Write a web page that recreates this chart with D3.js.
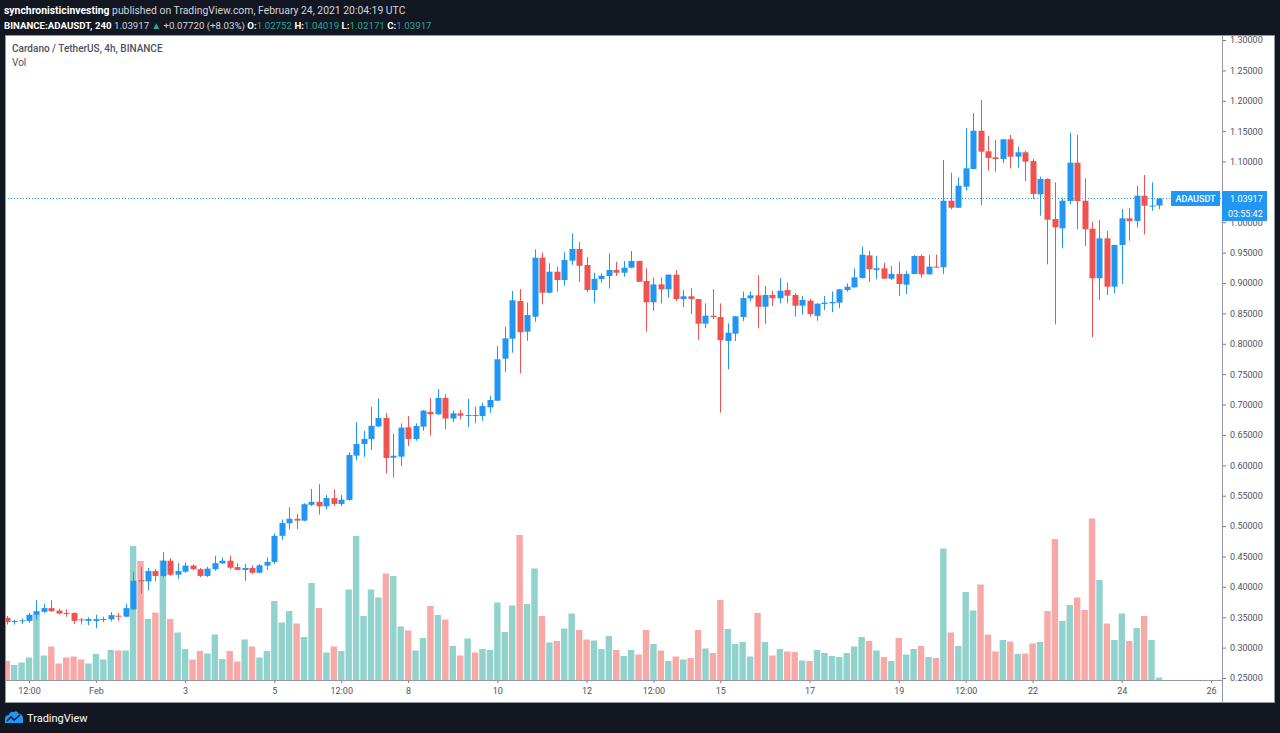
<!DOCTYPE html>
<html><head><meta charset="utf-8">
<script src="https://cdn.jsdelivr.net/npm/d3@7"></script>
<style>
html,body{margin:0;padding:0;background:#131722;}
svg{display:block;}
</style></head><body>
<svg id="c" width="1280" height="733"></svg>
<script>
// ---- DATA (4h candles, ADA/USDT, from 2021-01-30 00:00 UTC) ----
const opens = [0.349,0.342,0.344,0.344,0.354,0.359,0.365,0.361,0.357,0.357,0.3465,0.344,0.344,0.346,0.3465,0.3525,0.351,0.363,0.411,0.409,0.426,0.418,0.443,0.420,0.425,0.435,0.429,0.418,0.429,0.4387,0.443,0.4325,0.4277,0.431,0.4232,0.435,0.441,0.484,0.5046,0.512,0.509,0.535,0.540,0.5325,0.546,0.5365,0.543,0.616,0.635,0.643,0.664,0.678,0.6125,0.6143,0.6626,0.6433,0.6636,0.688,0.684,0.711,0.677,0.6856,0.6812,0.6828,0.6812,0.6955,0.7064,0.7755,0.8084,0.8704,0.820,0.8446,0.9417,0.884,0.9187,0.905,0.9368,0.956,0.9297,0.8886,0.9067,0.9116,0.9215,0.917,0.9253,0.9363,0.9033,0.8683,0.8978,0.8897,0.9138,0.8737,0.8782,0.8737,0.8331,0.8463,0.8441,0.8046,0.8167,0.8441,0.8749,0.8798,0.861,0.8803,0.875,0.8885,0.8803,0.8627,0.871,0.846,0.8655,0.8666,0.8677,0.8885,0.8929,0.9083,0.9456,0.9215,0.9242,0.9072,0.915,0.8973,0.915,0.9445,0.9143,0.927,0.926,1.0355,1.024,1.0586,1.0877,1.1507,1.1168,1.1069,1.1041,1.1366,1.108,1.1152,1.1008,1.046,1.0712,1.0054,0.990,1.035,1.0981,1.0355,0.9894,0.9078,0.9736,0.894,0.9626,1.0065,1.002,1.0437,1.0270,1.02752];
const highs = [0.352,0.346,0.348,0.357,0.378,0.372,0.378,0.364,0.363,0.358,0.349,0.350,0.354,0.351,0.3585,0.357,0.372,0.425,0.433,0.431,0.429,0.457,0.447,0.439,0.440,0.437,0.431,0.433,0.451,0.4486,0.451,0.439,0.4376,0.4354,0.4376,0.4486,0.488,0.511,0.531,0.520,0.5375,0.561,0.569,0.551,0.5606,0.551,0.6214,0.671,0.657,0.6965,0.7096,0.686,0.652,0.669,0.681,0.669,0.691,0.711,0.7256,0.717,0.690,0.691,0.7096,0.6965,0.703,0.714,0.7964,0.828,0.887,0.890,0.868,0.9555,0.950,0.9325,0.927,0.9506,0.9818,0.9675,0.943,0.917,0.916,0.949,0.935,0.936,0.9527,0.9365,0.924,0.909,0.909,0.914,0.9215,0.8885,0.8913,0.874,0.8666,0.890,0.8666,0.8337,0.8455,0.886,0.886,0.913,0.895,0.8874,0.908,0.9006,0.883,0.879,0.874,0.867,0.8787,0.886,0.890,0.8995,0.924,0.960,0.953,0.9445,0.9335,0.928,0.935,0.920,0.946,0.9467,0.946,0.947,1.1025,1.0816,1.074,1.1547,1.180,1.2012,1.142,1.1354,1.137,1.1436,1.1244,1.1173,1.104,1.075,1.0724,1.0658,1.0395,1.1474,1.1436,1.0724,1.001,1.0037,0.9856,0.963,1.0218,1.023,1.0602,1.0778,1.0658,1.04019];
const lows = [0.338,0.338,0.339,0.341,0.346,0.357,0.359,0.355,0.351,0.339,0.338,0.337,0.332,0.342,0.3433,0.344,0.350,0.362,0.389,0.394,0.409,0.416,0.418,0.413,0.423,0.427,0.416,0.416,0.4265,0.4376,0.429,0.427,0.4101,0.421,0.4222,0.428,0.4376,0.477,0.4947,0.495,0.508,0.533,0.519,0.528,0.533,0.533,0.5418,0.608,0.614,0.6254,0.663,0.587,0.580,0.599,0.632,0.6405,0.657,0.649,0.683,0.660,0.671,0.6757,0.6626,0.6692,0.6735,0.6866,0.706,0.754,0.7854,0.7515,0.805,0.8364,0.865,0.883,0.886,0.8956,0.930,0.902,0.885,0.8666,0.9005,0.891,0.9116,0.9105,0.9242,0.9017,0.820,0.8545,0.8666,0.876,0.8704,0.860,0.849,0.807,0.8255,0.8408,0.6866,0.758,0.8046,0.8375,0.8704,0.8255,0.833,0.862,0.8666,0.8666,0.8446,0.848,0.845,0.838,0.8556,0.852,0.8584,0.8858,0.8925,0.907,0.902,0.906,0.907,0.905,0.8787,0.882,0.9145,0.9094,0.914,0.9255,0.915,1.0214,1.0235,1.052,1.0875,1.0284,1.085,1.0832,1.097,1.0888,1.0898,1.068,1.038,1.0108,0.9308,0.832,0.957,1.0296,0.9885,0.961,0.8107,0.872,0.8803,0.883,0.8984,0.9697,0.9917,0.980,1.019,1.02171];
const closes = [0.342,0.344,0.345,0.354,0.360,0.365,0.360,0.356,0.356,0.344,0.3455,0.347,0.347,0.347,0.3535,0.351,0.365,0.410,0.409,0.426,0.418,0.443,0.420,0.426,0.435,0.429,0.418,0.430,0.439,0.443,0.4315,0.428,0.431,0.4232,0.4354,0.441,0.484,0.505,0.512,0.509,0.536,0.5397,0.5325,0.5462,0.5365,0.5435,0.617,0.635,0.6435,0.665,0.678,0.612,0.6158,0.662,0.6433,0.6647,0.690,0.684,0.711,0.677,0.6856,0.6817,0.6828,0.6812,0.6976,0.7075,0.7745,0.809,0.8716,0.819,0.8474,0.9417,0.884,0.9187,0.905,0.938,0.956,0.9285,0.8886,0.907,0.912,0.9215,0.917,0.9253,0.9363,0.902,0.8683,0.8978,0.8897,0.9138,0.8737,0.8782,0.8737,0.833,0.8463,0.8441,0.8058,0.8183,0.8453,0.8753,0.8798,0.861,0.8803,0.875,0.8874,0.8792,0.8627,0.8721,0.849,0.866,0.8677,0.8688,0.8897,0.894,0.9094,0.9467,0.9226,0.9242,0.9072,0.915,0.8984,0.915,0.9445,0.9143,0.927,0.926,1.0355,1.024,1.0602,1.0888,1.1507,1.1162,1.1058,1.1041,1.1366,1.108,1.1152,1.0997,1.0465,1.0712,1.0042,0.9917,1.0355,1.0981,1.035,0.9885,0.9078,0.9736,0.894,0.9626,1.0065,1.002,1.0437,1.0273,1.02752,1.03917];
const volumes = [38,30,35,45,131,49,67,33,45,47,41,33,52,41,60,59,59,268,238,122,135,239,122,95,62,41,58,53,91,42,58,37,81,67,45,58,158,115,138,113,86,194,144,55,67,58,181,288,128,181,165,213,208,107,99,59,84,148,130,121,68,49,83,55,62,60,155,96,149,290,152,223,128,75,78,103,133,100,81,79,62,88,60,48,60,51,100,72,59,38,47,41,44,100,63,54,160,102,72,76,47,134,76,49,62,57,56,39,38,60,54,48,46,54,67,86,78,59,46,38,84,51,62,68,46,44,263,95,68,176,139,191,91,57,80,77,52,53,73,76,138,282,118,150,165,140,323,200,113,80,133,78,104,128,80,5];
const priceTicks = [0.25,0.30,0.35,0.40,0.45,0.50,0.55,0.60,0.65,0.70,0.75,0.80,0.85,0.90,0.95,1.00,1.05,1.10,1.15,1.20,1.25,1.30];
const timeTickLabels = ["12:00","Feb","3","5","12:00","8","10","12","12:00","15","17","19","12:00","22","24","26"];
const timeTickDates = ["2021-01-30T12:00Z","2021-02-01T00:00Z","2021-02-03T00:00Z","2021-02-05T00:00Z","2021-02-06T12:00Z","2021-02-08T00:00Z","2021-02-10T00:00Z","2021-02-12T00:00Z","2021-02-13T12:00Z","2021-02-15T00:00Z","2021-02-17T00:00Z","2021-02-19T00:00Z","2021-02-20T12:00Z","2021-02-22T00:00Z","2021-02-24T00:00Z","2021-02-26T00:00Z"];
const startTime = Date.UTC(2021,0,30,0,0);
const barMs = 4*3600*1000;

// ---- LAYOUT ----
const W = 1280, Hh = 733;
const panel = {x0:5, y0:35, x1:1275, y1:703};
const plot = {x0:5, y0:35, x1:1222, y1:680};
const UP = "#2196f3", DOWN = "#ef5350";
const VUP = "rgba(38,166,154,0.5)", VDOWN = "rgba(239,83,80,0.5)";
const font = "Roboto, 'Open Sans', sans-serif";

const svg = d3.select("#c");
svg.append("rect").attr("width",W).attr("height",Hh).attr("fill","#131722");
svg.append("rect").attr("x",panel.x0).attr("y",panel.y0).attr("width",panel.x1-panel.x0).attr("height",panel.y1-panel.y0).attr("fill","#ffffff");

const data = opens.map((o,i)=>({t:new Date(startTime+i*barMs),o,h:highs[i],l:lows[i],c:closes[i],v:volumes[i]}));

const x = d3.scaleUtc().domain([new Date("2021-01-30T00:00Z"), new Date("2021-02-26T00:00Z")]).range([6.7, 1211]);
const y = d3.scaleLinear().domain([0.25,1.30]).range([678,40]);
const yv = d3.scaleLinear().domain([0,330]).range([680,515]);

svg.append("clipPath").attr("id","clip").append("rect")
  .attr("x",plot.x0).attr("y",plot.y0).attr("width",plot.x1-plot.x0).attr("height",plot.y1-plot.y0);
const g = svg.append("g").attr("clip-path","url(#clip)");

// volume
g.append("g").selectAll("rect").data(data).join("rect")
  .attr("x",d=>x(d.t)-3.2).attr("width",6.4)
  .attr("y",d=>yv(d.v)).attr("height",d=>yv(0)-yv(d.v))
  .attr("fill",d=>d.c>=d.o?VUP:VDOWN);

// last price line
const last = data[data.length-1];
g.append("line").attr("x1",plot.x0).attr("x2",plot.x1).attr("y1",Math.round(y(last.c))+0.5).attr("y2",Math.round(y(last.c))+0.5)
  .attr("stroke",UP).attr("stroke-width",1).attr("stroke-dasharray","1,2");

// candles
const cg = g.append("g");
cg.selectAll("line").data(data).join("line")
  .attr("x1",d=>Math.round(x(d.t))+0.5).attr("x2",d=>Math.round(x(d.t))+0.5)
  .attr("y1",d=>y(d.h)).attr("y2",d=>y(d.l))
  .attr("stroke",d=>d.c>=d.o?UP:DOWN).attr("stroke-width",1);
cg.selectAll("rect").data(data).join("rect")
  .attr("x",d=>Math.round(x(d.t))-2.5).attr("width",6)
  .attr("y",d=>y(Math.max(d.o,d.c)))
  .attr("height",d=>Math.max(1,Math.abs(y(d.o)-y(d.c))))
  .attr("fill",d=>d.c>=d.o?UP:DOWN);

// price axis (labels hidden behind the last-price badge are clipped like in the reference)
const ly = y(last.c);
svg.append("clipPath").attr("id","axclip").append("path")
  .attr("d",`M${plot.x1},${panel.y0}H${panel.x1}V${ly-7.5}H${plot.x1}Z M${plot.x1},${ly+22.5}H${panel.x1}V${panel.y1}H${plot.x1}Z`);
const ya = svg.append("g").attr("transform",`translate(${plot.x1},0)`)
  .call(d3.axisRight(y).tickValues(priceTicks).tickFormat(d3.format(".5f")).tickSize(4).tickSizeOuter(0));
ya.select(".domain").remove();
ya.selectAll("line").attr("stroke","#787b86");
ya.selectAll("text").attr("font-family",font).attr("font-size",9).attr("fill","#50535e").attr("x",8);
ya.selectAll(".tick").filter(d=>Math.abs(y(d)-ly)<16).attr("clip-path","url(#axclip)")
  .attr("transform",function(d){return `translate(0,${y(d)})`;});
svg.append("line").attr("x1",plot.x1+0.5).attr("x2",plot.x1+0.5).attr("y1",panel.y0).attr("y2",panel.y1).attr("stroke","#9598a1");

// time axis
const tDates = timeTickDates.map(s=>new Date(s));
const xa = svg.append("g").attr("transform",`translate(0,${plot.y1})`)
  .call(d3.axisBottom(x).tickValues(tDates).tickFormat((d,i)=>timeTickLabels[i]).tickSize(3).tickSizeOuter(0));
xa.select(".domain").remove();
xa.selectAll("line").attr("stroke","#787b86");
xa.selectAll("text").attr("font-family",font).attr("font-size",9).attr("fill","#50535e").attr("y",8);
svg.append("line").attr("x1",panel.x0).attr("x2",plot.x1).attr("y1",plot.y1+0.5).attr("y2",plot.y1+0.5).attr("stroke","#9598a1");
svg.append("rect").attr("x",panel.x0+0.5).attr("y",panel.y0+0.5).attr("width",panel.x1-panel.x0-1).attr("height",panel.y1-panel.y0-1)
  .attr("fill","none").attr("stroke","#9598a1");

// price labels
svg.append("rect").attr("x",1171).attr("y",ly-7.5).attr("width",49).attr("height",15).attr("fill",UP);
svg.append("text").attr("x",1195.5).attr("y",ly+3.5).attr("text-anchor","middle").attr("font-family",font).attr("font-size",9).attr("font-weight",500).attr("fill","#fff").text("ADAUSDT");
svg.append("rect").attr("x",1222).attr("y",ly-7.5).attr("width",45).attr("height",15).attr("fill",UP);
svg.append("text").attr("x",1230).attr("y",ly+3.5).attr("font-family",font).attr("font-size",9).attr("fill","#fff").text(d3.format(".5f")(last.c));
svg.append("rect").attr("x",1222).attr("y",ly+7.5).attr("width",45).attr("height",15).attr("fill",UP);
svg.append("text").attr("x",1228).attr("y",ly+18.5).attr("font-family",font).attr("font-size",9).attr("fill","#fff").text("03:55:42");

// legend
svg.append("text").attr("x",12).attr("y",52).attr("font-family",font).attr("font-size",10).attr("font-weight",500).attr("fill","#4c525e").text("Cardano / TetherUS, 4h, BINANCE");
svg.append("text").attr("x",12).attr("y",66).attr("font-family",font).attr("font-size",10).attr("fill","#4c525e").text("Vol");

// header
const h1 = svg.append("text").attr("x",4).attr("y",14).attr("font-family",font).attr("font-size",10.4).attr("fill","#d1d4dc");
h1.append("tspan").attr("font-weight",700).attr("fill","#ffffff").text("synchronisticinvesting");
h1.append("tspan").text(" published on TradingView.com, February 24, 2021 20:04:19 UTC");
const TEAL = "#26a69a";
const h2 = svg.append("text").attr("x",4).attr("y",29).attr("font-family",font).attr("font-size",9.7).attr("fill","#d1d4dc");
h2.append("tspan").attr("font-weight",700).attr("fill","#fff").text("BINANCE:ADAUSDT, 240 ");
h2.append("tspan").text("1.03917 ");
h2.append("tspan").attr("fill",TEAL).text("▲ ");
h2.append("tspan").text("+0.07720 (+8.03%) ");
[["O:",last.o],["H:",last.h],["L:",last.l],["C:",last.c]].forEach(([k,v],i)=>{
  h2.append("tspan").attr("font-weight",700).attr("fill","#fff").text((i?" ":"")+k);
  h2.append("tspan").attr("fill",TEAL).text(d3.format(".5f")(v));
});

// footer logo
const lg = svg.append("g").attr("transform","translate(5,711)");
lg.append("path").attr("d","M0,12 L0,8 Q0,4 4,4 Q5,0 9,1 Q12,-1 14,3 Q18,3 18,8 L18,12 Z").attr("fill","#2196f3");
lg.append("path").attr("d","M2,10 L6,6 L9,9 L15,4").attr("fill","none").attr("stroke","#131722").attr("stroke-width",1.5);
svg.append("text").attr("x",27).attr("y",722).attr("font-family",font).attr("font-size",11).attr("fill","#ffffff").text("TradingView");
</script>
</body></html>
